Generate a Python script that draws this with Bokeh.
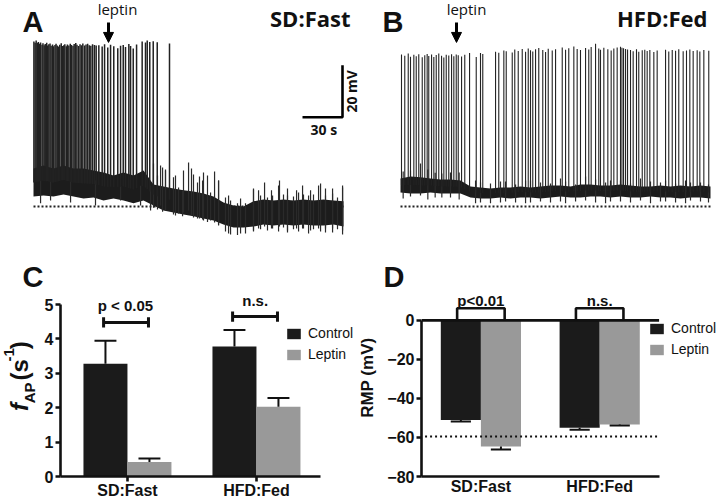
import numpy as np
from bokeh.plotting import figure
from bokeh.layouts import column, row
from bokeh.models import Label, Arrow, NormalHead, Legend, LegendItem, FixedTicker, Range1d
from bokeh.embed import file_html
from bokeh.resources import INLINE

# ---------------- Panels A / B : membrane potential traces (time in s, potential in mV)
env_t = [0, 7.5, 15, 22.5, 30, 37.5, 45, 52.5, 60, 67.5, 75, 82.5, 90, 97.5, 105, 112.5,
         120, 127.5, 135, 142.5, 150, 157.5, 165, 172.5, 180, 187.5, 195, 202.5, 210, 217.5, 225, 232.5]

# SD:Fast trace - baseline noise band (upper / lower edge)
a_band_upper = [-45.4, -44.2, -45.4, -44.2, -45.4, -45.4, -46.2, -46.9, -48.1, -46.9, -48.1, -46.2,
                -51.5, -52.3, -53.1, -53.8, -54.2, -55.0, -56.2, -58.5, -59.6, -60.0,
                -58.0, -57.3, -57.7, -57.3, -57.7, -57.3, -57.7, -57.3, -57.7, -58.0]
a_band_lower = [-56.2, -55.8, -56.2, -55.4, -56.2, -56.9, -56.5, -57.7, -56.9, -57.7, -58.8, -57.7,
                -59.6, -61.5, -62.3, -63.1, -63.8, -64.6, -65.4, -66.9, -68.1, -68.1,
                -67.7, -66.9, -67.3, -66.9, -67.3, -66.9, -67.3, -67.3, -66.9, -67.7]
a_spike_t = [0.3, 1.2, 2.0, 2.9, 3.6, 4.5, 5.3, 6.4, 7.1, 8.0,
             8.8, 9.9, 10.6, 11.5, 12.4, 13.2, 14.3, 15.0, 16.1, 16.9,
             17.8, 18.9, 19.7, 20.8, 21.6, 22.7, 23.5, 24.6, 25.4, 26.5,
             27.6, 28.4, 29.6, 30.5, 31.7, 32.6, 33.8, 34.9, 36.0, 37.0,
             38.3, 39.4, 40.6, 41.8, 43.0, 44.3, 45.7, 47.0,
             49.0, 51.5, 53.3, 55.7, 57.8, 60.2, 63.2, 65.3, 67.3, 69.0,
             71.5, 72.8, 74.8, 77.3, 81.5, 84.0, 85.3, 87.2, 89.8, 92.8, 102.0]
a_spike_peak = [3.5, 3.0, 3.8, 2.9, 3.3, 2.6, 3.1, 2.2, 2.8, 2.0,
                2.5, 3.0, 1.9, 2.4, 2.7, 1.8, 2.3, 1.6, 2.1, 2.6,
                1.9, 1.5, 2.2, 2.8, 1.7, 2.0, 2.4, 1.6, 2.3, 1.9,
                2.6, 2.1, 1.8, 2.5, 2.9, 2.2, 1.7, 2.4, 2.0, 2.7,
                1.9, 2.3, 2.6, 2.0, 1.8, 2.4, 2.1, 1.9,
                2.0, 1.5, 2.4, 1.2, 2.2, 1.6, 0.9, 1.8, 2.1, 1.3,
                2.5, 1.7, 0.8, 2.3, 3.5, 3.1, 3.8, 3.3, 3.6, 3.2, 2.7]
# noise excursions (time, lowest, highest)
a_noise_t = [5.3, 12.8, 27.8, 46.5, 65.3, 80.3, 87.8, 95.3, 99.0, 106.5, 112.5, 116.3, 118.5, 124.5,
             127.5, 135.8, 138.8, 146.3, 155.3, 165.0, 168.8, 173.3, 178.5, 184.5, 190.5, 197.3,
             201.8, 207.8, 213.8, 219.0, 224.3, 231.8,
             90.0, 93.0, 96.8, 99.0, 105.0, 108.8, 111.8, 120.0, 123.0, 126.8, 130.5, 132.8,
             138.8, 144.0, 147.8, 153.0, 159.0, 165.0, 170.3, 175.5, 179.3, 183.8, 187.5, 190.5,
             195.0, 198.8, 202.5, 206.3, 210.0, 215.3, 219.0, 224.3, 228.0, 231.8]
a_noise_low = [-58.8, -57.7, -58.5, -59.6, -57.7, -59.6, -61.5, -59.6, -61.5, -63.5, -62.3, -61.5, -63.5,
               -64.6, -65.4, -66.2, -67.3, -70.4, -70.4, -69.2, -68.5, -67.7, -68.5, -67.7, -69.2, -68.5,
               -68.5, -69.2, -68.5, -70.0, -68.5, -69.2,
               -60.5, -61.2, -62.0, -61.5, -63.1, -62.7, -63.8, -64.2, -64.6, -65.0, -66.0, -65.4,
               -67.0, -69.6, -70.8, -71.0, -70.4, -69.6, -68.8, -69.2, -68.5, -69.6, -68.1, -70.0,
               -68.8, -69.6, -68.5, -70.4, -68.8, -69.6, -68.5, -70.0, -68.8, -70.8]
a_noise_high = [-50, -50, -50, -50, -52, -52, -52, -44.2, -46.2, -48.1, -46.2, -43.1, -45.4, -48.5,
                -46.9, -46.5, -50.0, -55.8, -56.9, -53.1, -53.8, -50.8, -53.8, -50.0, -53.1, -53.8,
                -51.9, -53.8, -51.9, -53.1, -53.1, -51.9,
                -43.5, -48.1, -45.0, -45.8, -48.8, -52.7, -53.8, -47.7, -50.8, -50.0, -48.1, -54.6,
                -50.0, -56.5, -57.7, -58.8, -58.8, -53.5, -55.8, -56.5, -55.8, -51.9, -55.4, -55.8,
                -56.2, -54.6, -55.4, -55.8, -55.4, -51.2, -55.8, -55.0, -56.5, -52.7]

# HFD:Fed trace
b_band_upper = [-49.2, -48.5, -48.8, -49.2, -49.6, -49.6, -50.0, -52.3, -52.7, -53.1, -52.7, -52.7,
                -52.3, -52.7, -52.3, -51.9, -51.9, -52.3, -51.5, -51.5, -51.9, -51.9, -51.5, -51.9,
                -52.3, -52.3, -51.9, -52.3, -51.9, -52.3, -51.9, -52.3]
b_band_lower = [-54.6, -55.0, -55.0, -54.6, -55.0, -55.0, -55.0, -56.5, -56.9, -56.9, -56.5, -56.9,
                -56.5, -56.5, -56.9, -56.5, -56.2, -56.5, -56.5, -56.2, -56.2, -56.5, -56.2, -56.5,
                -56.5, -56.2, -56.5, -56.5, -56.9, -56.5, -56.5, -56.9]
b_spike_t = [0.75, 3.2, 5.8, 7.5, 10.0, 11.8, 13.7, 16.3, 18.2, 20.0,
             21.2, 23.3, 25.0, 26.8, 28.7, 30.8, 32.5, 34.3, 36.2, 38.3,
             40.0, 41.8, 43.3, 45.8, 48.2, 51.8, 56.8, 60.0, 61.7, 71.3,
             73.7, 77.5, 79.3, 83.8, 85.7, 88.3, 91.3, 93.8, 95.8, 97.5,
             99.2, 101.3, 103.7, 106.7, 108.8, 110.8, 113.8, 116.3, 121.3, 123.8,
             126.2, 130.0, 132.5, 135.0, 138.8, 141.2, 143.0, 146.3, 148.7, 150.0,
             152.5, 155.5, 158.0, 160.0, 162.5, 165.0, 166.1, 167.3, 168.8, 170.3,
             172.5, 174.5, 177.0, 178.7, 181.3, 183.2, 185.0, 187.0, 190.0, 192.5,
             198.8, 201.2, 203.8, 206.3, 208.7, 212.0, 214.5, 217.0, 219.5, 222.5,
             224.5, 227.5, 231.2]
b_spike_peak = [-1.5, -2.0, -1.2, -2.4, -1.6, -2.2, -1.4, -2.6, -1.8, -1.3,
                -2.1, -1.5, -2.5, -1.7, -1.2, -2.0, -2.7, -1.6, -1.9, -1.4,
                -2.2, -1.5, -1.8, -2.3, -1.6, -1.0, -2.5, -1.0, -1.3, -0.5,
                -0.9, 0.0, -0.3, -0.8, 0.4, -0.2, 0.6, -0.5, 0.8, 0.1,
                -0.4, 0.5, 1.0, 0.2, -0.6, 0.7, 0.0, 0.5, 1.2, 0.3,
                0.9, 1.5, 0.6, 0.2, 1.0, 0.4, 1.3, 2.6, 0.8, 0.3,
                1.1, 0.5, 0.0, 0.8, 1.2, 1.4, 1.1, 0.9, 0.6, 0.4,
                0.2, -0.3, 0.5, -0.5, 0.1, 0.3, -0.2, 0.2, -0.6, 0.0,
                0.3, -0.4, 0.2, -0.1, 0.5, -0.3, 0.0, 0.4, -0.2, 0.1,
                -0.4, 0.2, -0.1]
b_noise_t = [7.5, 15.0, 26.0, 37.5, 56.3, 75.0, 97.5, 120.0, 138.8, 157.5, 180.0, 198.8, 217.5,
             2.0, 20.5, 31.0, 44.0, 60.0, 67.5, 78.8, 86.3, 93.8, 105.0, 112.5, 123.8, 131.3,
             146.3, 153.8, 165.0, 172.5, 187.5, 195.0, 206.3, 213.8, 225.0, 231.0]
b_noise_high = [-46.2, -43.5, -47.0, -46.9, -50.0, -50.4, -50.0, -49.2, -48.5, -50.0, -49.2, -50.0, -50.8,
                -46.5, -45.8, -47.3, -46.9, -50.8, -51.2, -50.4, -51.5, -50.0, -50.8, -51.2, -50.4, -51.5,
                -49.6, -50.8, -50.0, -51.2, -50.4, -50.8, -51.2, -50.0, -50.8, -51.5]
b_noise_low = [-56.2, -55.8, -56.5, -56.5, -58.8, -58.5, -58.5, -58.1, -57.7, -58.1, -57.7, -58.1, -57.7,
               -56.9, -57.3, -56.5, -57.3, -58.5, -58.8, -58.1, -58.5, -58.8, -58.1, -58.5, -58.8, -58.1,
               -58.5, -58.8, -58.1, -58.5, -58.8, -58.1, -58.5, -58.8, -58.1, -58.5]

baseline_reference_mV = -60.0
leptin_time_a = 56.25
leptin_time_b = 42.0
scale_time_s = 30
scale_volt_mV = 20

# ---------------- Panels C / D : bar charts
groups = ["SD:Fast", "HFD:Fed"]
series = ["Control", "Leptin"]
fap_control = [3.28, 3.78]
fap_control_sem = [0.67, 0.48]
fap_leptin = [0.42, 2.03]
fap_leptin_sem = [0.10, 0.25]
rmp_control = [-51.0, -55.0]
rmp_control_sem = [0.8, 1.0]
rmp_leptin = [-64.6, -53.3]
rmp_leptin_sem = [1.6, 0.5]
rmp_reference = -59.5
fap_y_ticks = [0, 1, 2, 3, 4, 5]
rmp_y_ticks = [-80, -60, -40, -20, 0]

CTRL = "#1b1b1b"
LEPT = "#999999"
INK = "#111111"
SANS = "Liberation Sans"
OPEN = "Open Sans"
ROT = np.pi / 2


def label(p, x, y, text, size, style="bold", font=SANS, align="left", baseline="alphabetic", angle=0.0):
    p.add_layout(Label(x=x, y=y, text=text, text_font=font, text_font_size=f"{size}px",
                       text_font_style=style, text_align=align, text_baseline=baseline,
                       angle=angle, text_color=INK))


def bare(width, height, xr, yr):
    p = figure(width=width, height=height, x_range=xr, y_range=yr,
               output_backend="svg", toolbar_location=None, x_axis_location=None,
               y_axis_location=None, min_border=0, outline_line_color=None,
               background_fill_color="white", border_fill_color="white")
    p.xgrid.visible = False
    p.ygrid.visible = False
    return p


def trace_panel(width, t0, t1, up, lo, sp_t, sp_pk, nz_t, nz_lo, nz_hi, sp_w):
    p = bare(width, 292, Range1d(t0, t1), Range1d(-93.08, 19.23))
    p.line([env_t[0], env_t[-1]], [baseline_reference_mV, baseline_reference_mV],
           line_color="#222222", line_width=2.2, line_dash="2 2")
    p.varea(x=env_t, y1=lo, y2=up, fill_color="#1c1c1c")
    p.segment(x0=nz_t, y0=nz_lo, x1=nz_t, y1=nz_hi, line_color="#2a2a2a", line_width=1.2)
    mid = (np.array(up) + np.array(lo)) / 2.0
    base = np.interp(sp_t, env_t, mid)
    p.segment(x0=sp_t, y0=base, x1=sp_t, y1=sp_pk, line_color="#222222", line_width=sp_w)
    return p


# ----- A
pA = trace_panel(364, -24.75, 248.25, a_band_upper, a_band_lower, a_spike_t, a_spike_peak,
                 a_noise_t, a_noise_low, a_noise_high, 1.5)
pA.add_layout(Arrow(end=NormalHead(size=10, fill_color="black", line_color="black"),
                    x_start=leptin_time_a, y_start=10.8, x_end=leptin_time_a, y_end=3.1,
                    line_width=3, line_color="black"))
label(pA, -8.25, 10.77, "A", 29)
label(pA, 63.0, 15.96, "leptin", 15, style="normal", font=OPEN, align="center")
label(pA, 237.75, 12.69, "SD:Fast", 22, font=OPEN, align="right")
sb_t = 231.75
sb_v = -25.7
pA.line([sb_t - scale_time_s, sb_t, sb_t], [sb_v, sb_v, sb_v + scale_volt_mV],
        line_color="black", line_width=2.6)
label(pA, sb_t - scale_time_s / 2 + 1, -30.4, f"{scale_time_s} s", 14, font=OPEN, align="center")
label(pA, 238.5, sb_v + scale_volt_mV / 2, f"{scale_volt_mV} mV", 14, font=OPEN, align="center",
      angle=ROT)
label(pA, -8.25, -87.0, "C", 29)

# ----- B
pB = trace_panel(356, -27.0, 240.0, b_band_upper, b_band_lower, b_spike_t, b_spike_peak,
                 b_noise_t, b_noise_low, b_noise_high, 1.1)
pB.add_layout(Arrow(end=NormalHead(size=10, fill_color="black", line_color="black"),
                    x_start=leptin_time_b, y_start=10.8, x_end=leptin_time_b, y_end=3.1,
                    line_width=3, line_color="black"))
label(pB, -13.5, 10.77, "B", 29)
label(pB, 49.5, 15.9, "leptin", 15, style="normal", font=OPEN, align="center")
label(pB, 230.25, 12.69, "HFD:Fed", 22, font=OPEN, align="right")
label(pB, -12.75, -87.0, "D", 29)


def style_axes(p):
    p.xgrid.visible = False
    p.ygrid.visible = False
    for ax in p.axis:
        ax.axis_line_width = 2.6
        ax.axis_line_color = INK
        ax.major_tick_line_width = 2.6
        ax.major_tick_line_color = INK
        ax.minor_tick_line_color = None
        ax.major_tick_in = 0
        ax.major_label_text_font = SANS
        ax.major_label_text_font_style = "bold"
        ax.major_label_text_font_size = "16px"
        ax.major_label_text_color = INK


def bars(p, ctrl, ctrl_sem, lept, lept_sem, bw, cap):
    xi = np.arange(len(groups), dtype=float)
    xc = xi - bw / 2
    xl = xi + bw / 2
    rc = p.vbar(x=xc, top=ctrl, bottom=0, width=bw, fill_color=CTRL, line_color=None)
    rl = p.vbar(x=xl, top=lept, bottom=0, width=bw, fill_color=LEPT, line_color=None)
    for xs, vals, sem in ((xc, ctrl, ctrl_sem), (xl, lept, lept_sem)):
        vals = np.array(vals)
        ends = vals + np.sign(vals) * np.array(sem)
        p.segment(x0=xs, y0=vals, x1=xs, y1=ends, line_color=INK, line_width=2)
        p.segment(x0=xs - cap, y0=ends, x1=xs + cap, y1=ends, line_color=INK, line_width=2)
    return rc, rl


def legend(p, rc, rl, loc):
    leg = Legend(items=[LegendItem(label=series[0], renderers=[rc]),
                        LegendItem(label=series[1], renderers=[rl])],
                 location=loc, orientation="vertical", padding=0, margin=0, spacing=5,
                 glyph_width=17, glyph_height=13, label_standoff=6,
                 label_text_font=SANS, label_text_font_size="14px", label_text_color=INK,
                 border_line_color=None, background_fill_alpha=0)
    p.add_layout(leg)


# ----- C  (y-axis title strip + plot)
sC = bare(40, 211, Range1d(0, 40), Range1d(503, 292))
label(sC, 18.5, 428, "f", 24, style="bold italic", angle=ROT)
label(sC, 29, 419, "AP", 15, angle=ROT)
label(sC, 18.5, 393, "(s", 24, angle=ROT)
label(sC, 8, 371, "-1", 15, angle=ROT)
label(sC, 18.5, 357, ")", 24, angle=ROT)

pC = figure(width=318, height=211, x_range=Range1d(-0.519, 1.791), y_range=Range1d(0, 5.35),
            min_border_left=20, min_border_right=0, min_border_top=0, min_border_bottom=27,
            output_backend="svg", toolbar_location=None, outline_line_color=None)
style_axes(pC)
rc, rl = bars(pC, fap_control, fap_control_sem, fap_leptin, fap_leptin_sem, 0.341, 0.085)
pC.xaxis.ticker = FixedTicker(ticks=[float(i) for i in range(len(groups))])
pC.xaxis.major_label_overrides = {i: g for i, g in enumerate(groups)}
pC.xaxis.bounds = (-0.519, 1.496)
pC.xaxis.major_tick_out = 5
pC.xaxis.major_label_standoff = 0
pC.yaxis.ticker = FixedTicker(ticks=fap_y_ticks)
pC.yaxis.bounds = (fap_y_ticks[0], fap_y_ticks[-1])
pC.yaxis.major_tick_out = 5
pC.yaxis.major_label_standoff = 2
legend(pC, rc, rl, (225, 114))
for cx, yb in ((0.0, 4.48), (1.0, 4.65)):
    pC.segment(x0=[cx - 0.185, cx - 0.185, cx + 0.163], y0=[yb, yb - 0.15, yb - 0.15],
               x1=[cx + 0.163, cx - 0.185, cx + 0.163], y1=[yb, yb + 0.15, yb + 0.15],
               line_color=INK, line_width=3)
label(pC, -0.016, 4.97, "p < 0.05", 15, align="center")
label(pC, 0.99, 5.12, "n.s.", 15, align="center")

# ----- D  (y-axis title strip + plot)
sD = bare(26, 211, Range1d(358, 384), Range1d(503, 292))
label(sD, 367.0, 387, "RMP  (mV)", 17, align="center", angle=ROT)

pD = figure(width=336, height=211, x_range=Range1d(-0.5, 2.017), y_range=Range1d(-80, 14.3),
            min_border_left=34, min_border_right=0, min_border_top=0, min_border_bottom=22,
            output_backend="svg", toolbar_location=None, outline_line_color=None)
style_axes(pD)
rc2, rl2 = bars(pD, rmp_control, rmp_control_sem, rmp_leptin, rmp_leptin_sem, 0.3375, 0.085)
xb = (-0.5, 1.5)
pD.line(list(xb), [0, 0], line_color=INK, line_width=2.6)
pD.line([xb[0] + 0.03, xb[1]], [rmp_reference, rmp_reference], line_color=INK, line_width=2.2,
        line_dash="2 3")
pD.xaxis.ticker = FixedTicker(ticks=[float(i) for i in range(len(groups))])
pD.xaxis.major_label_overrides = {i: g for i, g in enumerate(groups)}
pD.xaxis.bounds = xb
pD.xaxis.major_tick_out = 0
pD.xaxis.major_label_standoff = 1
pD.yaxis.ticker = FixedTicker(ticks=rmp_y_ticks)
pD.yaxis.bounds = (rmp_y_ticks[0], rmp_y_ticks[-1])
pD.yaxis.major_tick_out = 5
pD.yaxis.major_label_standoff = 2
legend(pD, rc2, rl2, (227, 119))
for cx in (0.0, 1.0):
    pD.line([cx - 0.2, cx - 0.2, cx + 0.2, cx + 0.2], [0, 6.2, 6.2, 0], line_color=INK, line_width=2.6)
label(pD, 0.0, 10.3, "p<0.01", 15, align="center")
label(pD, 1.0, 10.3, "n.s.", 15, align="center")

layout = column(row(pA, pB), row(sC, pC, sD, pD))
open("out.html", "w").write(file_html(layout, INLINE))
